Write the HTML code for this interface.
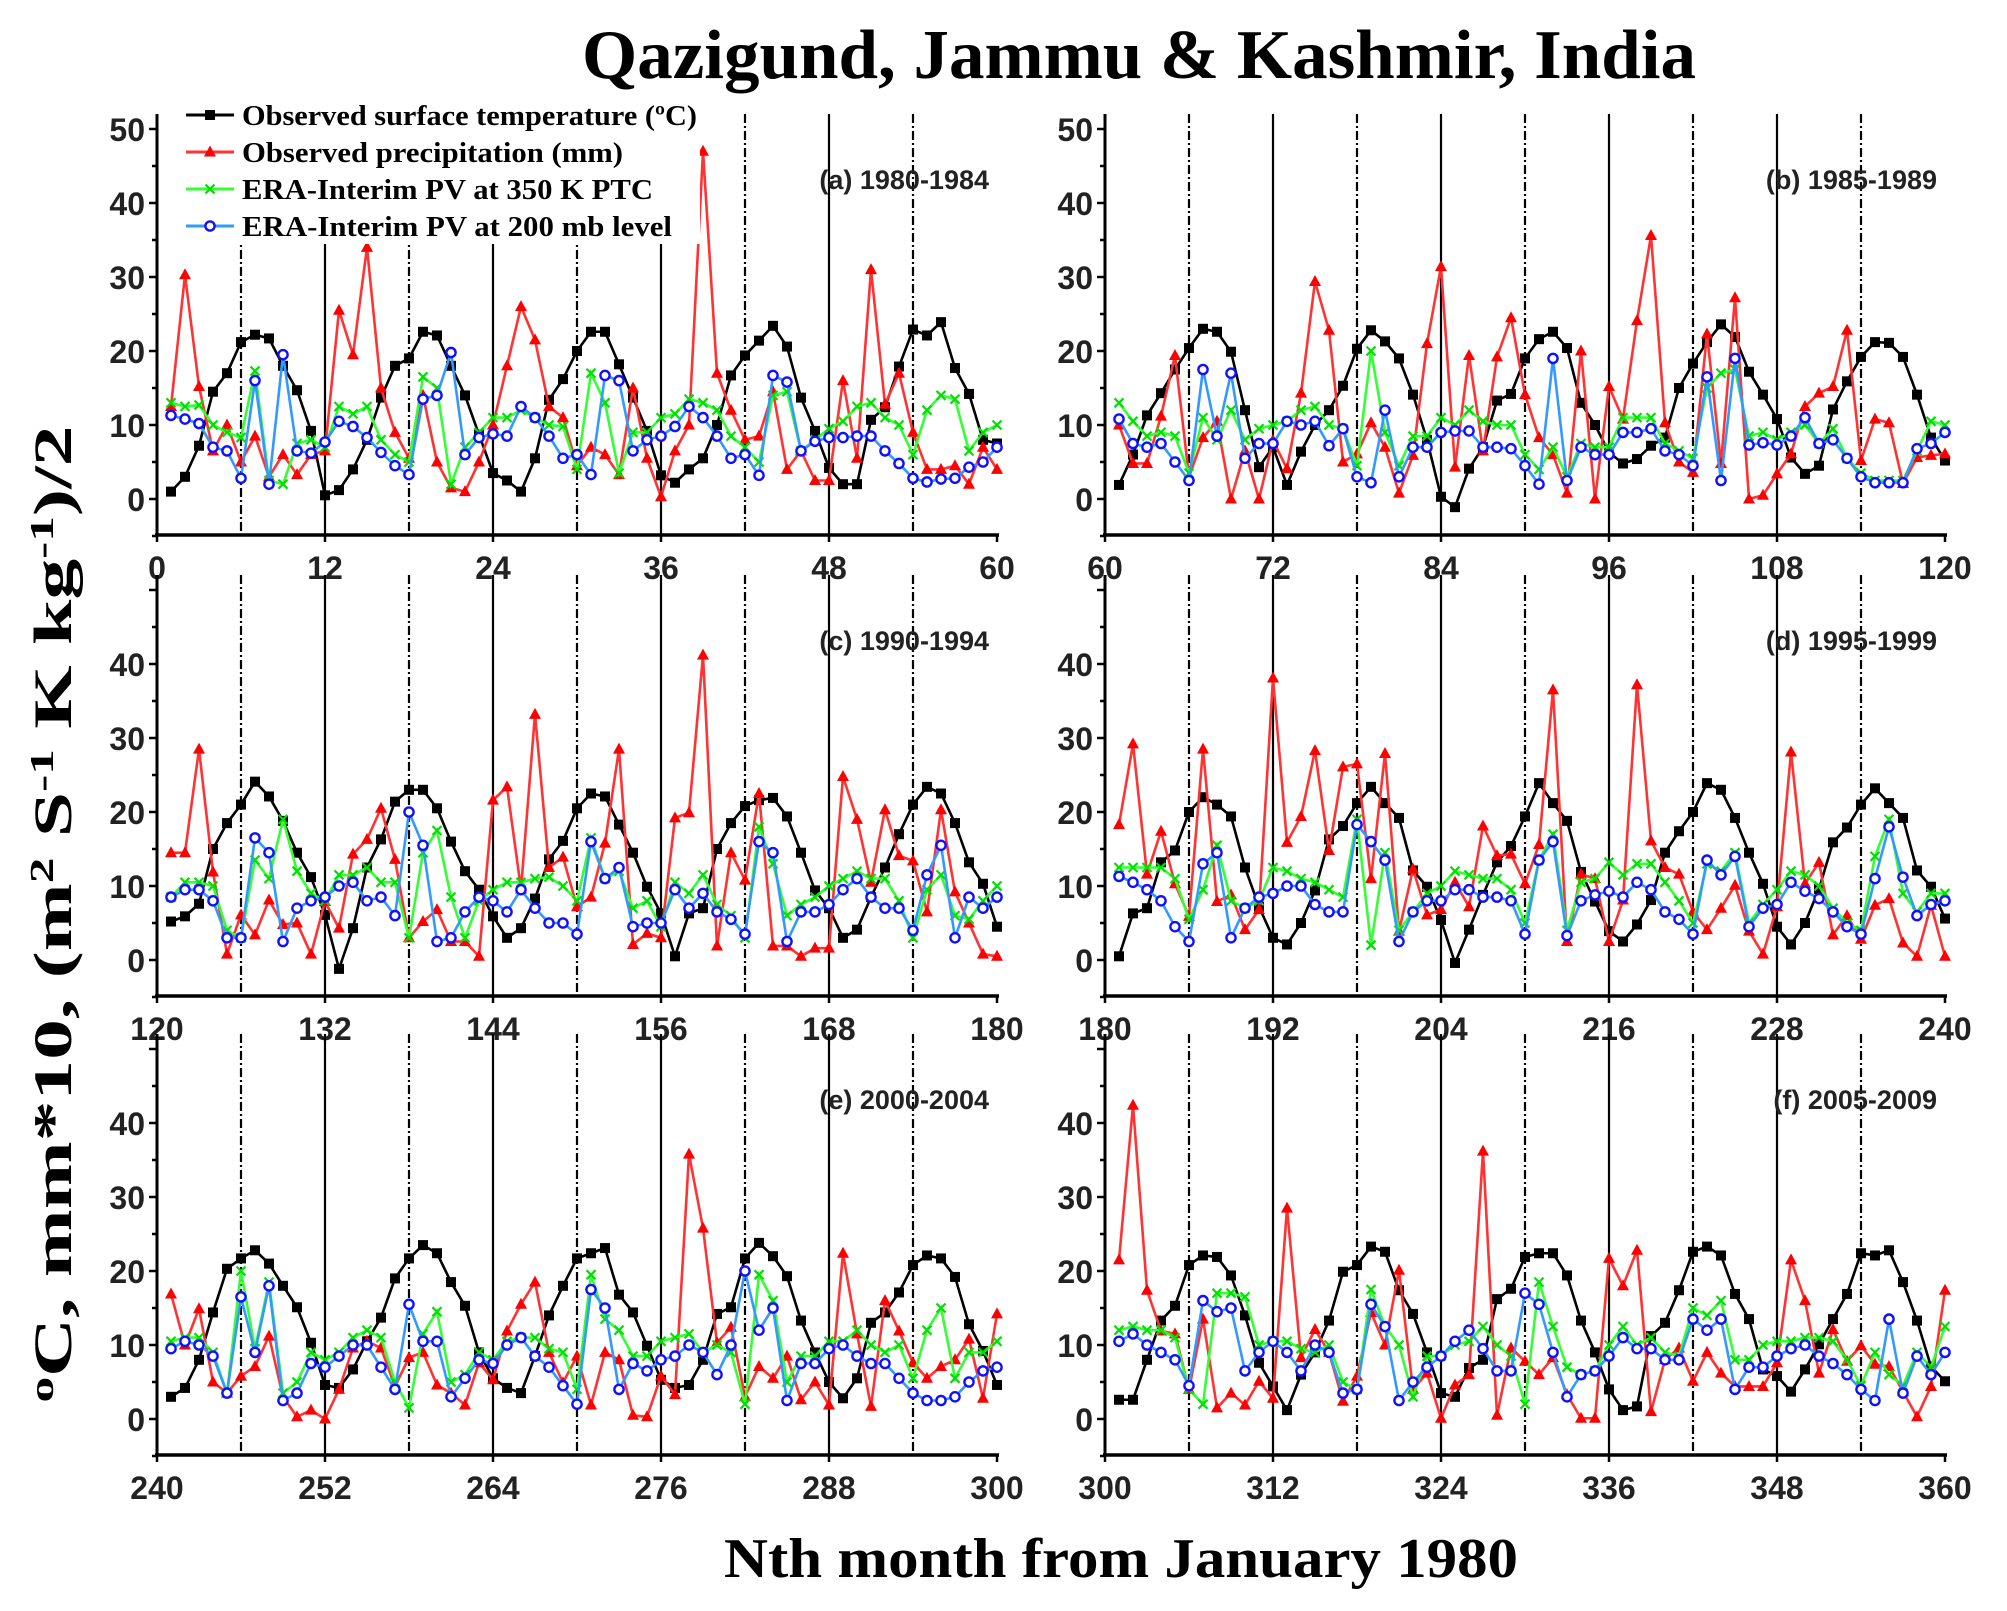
<!DOCTYPE html>
<html><head><meta charset="utf-8"><style>
html,body{margin:0;padding:0;background:#fff}
svg{display:block}
</style></head><body>
<svg id="chart" xmlns="http://www.w3.org/2000/svg" width="2007" height="1611" viewBox="0 0 2007 1611">
<rect x="0" y="0" width="2007" height="1611" fill="#fff"/>
<text x="1139" y="78" text-anchor="middle" font-family="Liberation Serif, serif" font-weight="bold" font-size="70" textLength="1114" lengthAdjust="spacingAndGlyphs">Qazigund, Jammu &amp; Kashmir, India</text>
<text x="1121" y="1577" text-anchor="middle" font-family="Liberation Serif, serif" font-weight="bold" font-size="56" textLength="794" lengthAdjust="spacingAndGlyphs">Nth month from January 1980</text>
<text x="71" y="914" transform="rotate(-90 71 914)" text-anchor="middle" font-family="Liberation Serif, serif" font-weight="bold" font-size="54" textLength="977" lengthAdjust="spacingAndGlyphs"><tspan baseline-shift="super" font-size="34">o</tspan>C, mm*10, (m<tspan baseline-shift="super" font-size="34">2</tspan> S<tspan baseline-shift="super" font-size="34">-1</tspan> K kg<tspan baseline-shift="super" font-size="34">-1</tspan>)/2</text>
<g id="panels"></g>
<g id="legend"></g>
</svg>
<script>
// Panel categories / labels
const panelLabels = ["(a) 1980-1984","(b) 1985-1989","(c) 1990-1994","(d) 1995-1999","(e) 2000-2004","(f) 2005-2009"];
const panelStartMonths = [0,60,120,180,240,300];
const yTickValues = [0,10,20,30,40,50];
const xTickSteps = [0,12,24,36,48,60];

const temp_a = [1,3,7.2,14.5,17,21.2,22.2,21.7,18,14.7,9.2,0.5, 1.2,4,8,13.7,18,19,22.6,22.1,18,14,8.7,3.5, 2.5,1,5.5,13.4,16.2,20,22.6,22.6,18.2,13.7,9.2,3.2, 2.2,4,5.5,10,16.7,19.4,21.4,23.4,20.6,13.7,9.2,4.2, 2,2,10.7,12.4,17.9,22.9,22.1,23.9,17.7,14.2,8,7.5];
const precip_a = [12.5,30.3,15.2,6.5,10,5,8.5,3,6,3.3,6,6.5, 25.5,19.5,34,15,9,5.5,14,5,1.5,1,5,10, 18,26,21.5,12.5,11,4.5,7,6,3.3,15,5.5,0.3, 6.5,10,47,17,12,8,8.5,14.5,4,6.5,2.5,2.5, 16,5.5,31,12.8,17,9,4,4,4.5,2,7,4];
const pv350_a = [13,12.5,12.7,10,9,8.3,17.3,2.5,2,7.5,8,7, 12.5,11.5,12.5,8,6,5,16.5,15,2,7,9,11, 11,12,11,10,9.8,4,17,13,3.5,9,9,11, 11.5,13.5,13,12,8.5,7,5,14,14.5,6.5,8,9.5, 10.5,12.5,13,11,10,6,12,14,13.5,6.5,9,10];
const pv200_a = [11.3,10.8,10.2,7,6.5,2.8,16,2,19.5,6.5,6.2,7.7, 10.5,9.8,8.3,6.3,4.5,3.3,13.5,14,19.8,6,8.3,8.8, 8.5,12.5,11,8.5,5.5,6,3.3,16.7,16,6.5,8,8.5, 9.8,12.5,11,8.5,5.5,6,3.2,16.7,15.8,6.5,7.8,8.3, 8.3,8.5,8.5,6.5,4.8,2.8,2.3,2.7,2.8,4.3,5,7];

const temp_b = [1.9,6,11.3,14.3,17.5,20.4,23,22.6,19.9,12,4.3,7, 1.9,6.4,10,12,15.3,20.3,22.8,21.3,19,14.1,8,0.3, -1.1,4.1,7,13.3,14.2,19,21.6,22.6,20.4,13,10,6.3, 4.8,5.4,7.2,8.3,15,18.3,21.2,23.6,21.9,17.2,14.1,10.8, 5.6,3.4,4.5,12.1,15.9,19.2,21.2,21.1,19.2,14.1,8.3,5.2];
const precip_b = [10,4.8,4.8,11.2,19.4,3,8.3,10.5,0,6.5,0,7.9, 4.1,14.3,29.4,22.8,5,6.1,10.3,7,0.8,5.9,21,31.4, 4.3,19.4,6.5,19.2,24.5,14.1,8.3,6,0.8,20,0,15.2, 10.8,24.1,35.6,10.3,5,3.6,22.3,4.8,27.2,0,0.5,3.4, 6.1,12.5,14.3,15.2,22.8,5.2,10.8,10.3,2.1,5.6,5.9,6.1];
const pv350_b = [13,10.5,8.5,9,8.5,3.5,11,8,12,8,9.5,10, 10.5,12,12.5,10,9.5,4.5,20,9,4.5,8.5,8.5,11, 10,12,10.5,10,10,6,4,7,3,7.5,7,7, 11,11,11,7.5,6.5,5.5,15,17,17.5,8.5,9,8, 9,10,7.5,9.5,5.5,3.5,2.5,2.5,2.5,6.5,10.5,10];
const pv200_b = [10.8,7.5,7,7.5,5,2.5,17.5,8.5,17,5.5,7.5,7.5, 10.5,10,10.5,7.2,9.5,3,2.2,12,3,7,7,9, 9.2,9.2,7,7,6.8,4.5,2,19,2.5,7,6,6, 9,9,9.5,6.5,6,4.5,16.5,2.5,19,7.3,7.6,7.3, 8.5,11,7.5,8,5.5,3,2.2,2.2,2.2,6.8,7.5,9];

const temp_c = [5.2,5.9,7.6,15,18.5,21,24.1,22.1,18.8,14.5,11.2,6.1, -1.2,4.3,12.5,16.3,21.4,23,23,20.5,16,12,9.5,5.9, 3,4.3,8.3,13.6,16.1,20.5,22.5,22.1,18.3,14.5,9.9,6.3, 0.5,6.3,7,15,18.5,20.8,21.6,21.9,19.4,14.5,9.4,7, 3,4.1,8.5,12.5,17,21,23.4,22.5,18.5,13.2,10.3,4.5];
const precip_c = [14.5,14.5,28.5,11.9,0.8,6.1,3.4,8.1,4.8,5,0.8,7.9, 4.3,14.3,16.3,20.5,13.6,3,5.2,6.8,2.5,2.5,0.5,21.6, 23.4,9.6,33.2,12.5,13.9,7.2,8.5,15.8,28.5,2.1,3.6,3, 19.2,19.9,41.2,1.9,14.5,10.8,22.5,1.9,1.9,0.5,1.6,1.6, 24.8,19,10.5,20.3,14.1,13.4,6.5,20.3,9.2,5,0.8,0.5];
const pv350_c = [8.5,10.5,10.5,10,4,3,13.5,11,19,12,9,8, 11.5,11.5,12.5,10.5,10.5,3,14.5,17.5,8.5,3,8,9.5, 10.5,10.5,11,11.2,10,8,16.5,11,12,7,8,4.5, 10.5,9,11.5,7.5,6,3,18,13,6,7.5, 8.5,10,11,12,11,11,8,3,9.5,11.5,6,5.5,8,10];
const pv200_c = [8.5,9.5,9.5,8,3,3,16.5,14.5,2.5,7,8,8.5, 10,10.5,8,8.5,6,20,15.5,2.5,3,6.5,8.5,8, 6.5,9.5,7,5,5,3.5,16,11,12.5,4.5,5,5, 9.5,7,9,6.5,5.5,3.5,16,14.5,2.5,6.5,6.5,7.5, 9.5,11,8.5,7,7,4,11.5,15.5,3,8.5,7,8.5];

const temp_d = [0.5,6.3,7,13.2,14.8,20,22,21,19.4,12.5,7.2,3, 2.1,5,9.4,16.3,18.1,21.2,23.4,21.2,19.2,12.1,9.9,5.4, -0.4,4.1,8.8,13.2,15.4,19.4,23.9,21.2,18.8,11.9,7.9,3.9, 2.5,4.8,8.1,14.5,17.4,20,23.9,23,19.2,14.5,10.3,4.5, 2.1,5,9.6,15.9,17.9,21,23.2,21.2,19.2,12.1,9.9,5.6];
const precip_d = [18.3,29.2,11.6,17.4,10.3,5.9,28.5,7.9,8.8,4.1,6.8,38.1, 15.9,19.4,28.3,14.8,26.1,26.5,11,27.9,3.9,12.3,6.1,6.8, 10.5,7.2,18.1,14.1,14.3,10.3,15.6,36.5,2.5,11.6,11,2.5, 8.1,37.2,16.1,12.5,11.6,6.5,4.1,7,10.1,3.9,0.8,7.2, 28.1,10.3,13.2,3.4,6,2.8,7.4,8.3,2.3,0.5,7.4,0.5];
const pv350_d = [12.5,12.5,12.5,12.5,11,5.5,9.5,15.5,8,7,8,12.5, 12,11,10.5,9.5,8.5,19,2,14.5,4,6.5,9,10, 12,11.5,11,11,9.5,5,13.5,17,4,10.5,11,13.2, 11.5,13,13,10.5,8,5,13,12,14.5,5,7.5,9.5, 12,11.5,10,7,5,4,14,19,9,6.5,9,9];
const pv200_d = [11.3,10.5,9.5,8,4.5,2.5,13,14.5,3,7,8.5,9, 10,10,7.5,6.5,6.5,18.3,16,13.5,2.5,6.5,8,8, 9.5,9.5,8.5,8.5,8,3.5,13.5,16,3.3,8,8.8,9.3, 8.5,10.5,9.5,6.5,5.5,3.5,13.5,11.5,14,4.5,7,7.5, 10.5,9.3,8.3,6.5,4.5,3.5,11,18,11.2,6,7.5,8];

const temp_e = [3,4.2,8,14.4,20.3,21.7,22.8,21,18,15.1,10.3,4.6, 4.2,6.7,10.5,13.7,19,21.7,23.5,22.4,18.5,15.3,9,5.5, 4.2,3.5,8.5,14,18,21.7,22.4,23.1,16.8,14.4,9.9,5.3, 4.2,4.6,8,14.2,15.1,21.7,23.8,22,19.3,13.3,9,5, 2.8,5.5,13,14.4,17.1,20.8,22.1,21.7,19.2,12.8,9.2,4.6];
const precip_e = [16.9,10,14.9,5,3.5,5.8,7.1,11.2,3,0.3,1.2,0, 4,9.6,10.5,9.6,4.4,8.3,9,4.6,3.5,1.9,7.6,5.3, 11.9,15.5,18.5,9,4.9,8.5,1.9,9,8,0.5,0.3,5.8, 3.3,35.8,25.8,10.3,12.4,3,7.1,5.5,8.5,2.6,5,1.9, 22.4,11.5,1.7,16,11.9,7.6,5.5,7.1,8,10.8,2.8,14.2];
const pv350_e = [10.5,11,11,9,3.5,20,9.5,18.5,3.5,5,9,8, 9,11,12,11,5,1.5,11.5,14.5,5,6,9,8, 10.5,11,11,9.5,9,4,19.5,13.5,12,8.5,8.5,10.5, 11,11.5,9,10,9,2,19.5,16,5,8.5,8.5,10.5, 10.5,12,10,9,10,5.5,12,15,5.5,9,9,10.5];
const pv200_e = [9.5,10.5,10,8.5,3.5,16.5,9,18,2.5,3.5,7.5,7, 8.5,10,10,7,4,15.5,10.5,10.5,3,5.5,8,7.5, 10,11,8.5,7,4.5,2,17.5,15,4,7.5,6.5,8, 8.5,10,9,6,10,20,12,15,2.5,7.5,7.5,9.5, 10,8.5,7.5,7.5,5.5,3.5,2.5,2.5,3,5,6.5,7];

const temp_f = [2.6,2.6,8,13.3,15.3,20.8,22.1,21.9,19.4,14,7.6,4.4, 1.2,6,9,13.3,19.9,20.8,23.3,22.6,17.4,14.2,9,3.5, 3,6.9,8,16.2,17.6,21.9,22.4,22.4,19.4,13.3,9,4, 1.2,1.7,11.2,13,17.4,22.6,23.3,22.1,16.9,13.5,6.7,5.8, 3.7,6.7,10.1,13.5,16.9,22.4,22.1,22.8,18.5,13.3,7.1,5.1];
const precip_f = [21.5,42.4,17.4,11.9,11.5,4,13.5,1.5,3.5,1.9,5.1,2.8, 28.5,8.3,12.1,9,2.4,5.8,14.4,10,20.1,4,6.2,0.1, 4.6,6,36.2,0.5,9.6,7.8,6,8.3,3.3,0.1,0.1,21.7, 18,22.8,1,8,9.6,5.1,9,6.2,4.4,4.4,4.4,7.6, 21.5,16,6.2,12.1,7.8,9.9,7.4,7.1,3.7,0.3,4.4,17.4];
const pv350_f = [12,12.5,12,12,11,4,2,17,17,16.5,10,10.5, 10.5,9.5,9,10,5,4,17.5,12.5,10,3,8.5,8.5, 10,10.5,12.5,10,8.5,2,18.5,12.5,7,6,6.5,10, 12.5,10,11,9,8.5,15,14,16,8,8,10,10.5, 10.5,11,11,10.5,8,4.5,9,6,4.5,9,7,12.5];
const pv200_f = [10.5,11.5,10,9,8,4.5,16,14.5,15,6.5,9,10.5, 9,6.5,10,9,3.5,4,15.5,12.5,2.5,5,7,8.5, 10.5,12,9.5,6.5,6.5,17,15.5,9,3,6,6.5,8.5, 11,9.5,9.5,8,8,13.5,12,13.5,4,7,7,8.5, 9.5,10,8.5,7.5,6,4,2.5,13.5,3.5,8.5,6,9];

const legendLabels = ["Observed surface temperature (\u00BAC)","Observed precipitation (mm)","ERA-Interim PV at 350 K PTC","ERA-Interim PV at 200 mb level"];

const NS = "http://www.w3.org/2000/svg";
const tempAll = [temp_a,temp_b,temp_c,temp_d,temp_e,temp_f];
const precipAll = [precip_a,precip_b,precip_c,precip_d,precip_e,precip_f];
const pv350All = [pv350_a,pv350_b,pv350_c,pv350_d,pv350_e,pv350_f];
const pv200All = [pv200_a,pv200_b,pv200_c,pv200_d,pv200_e,pv200_f];

const colX0 = [157, 1105];
const rowY0 = [499, 960, 1419];
const PXM = 14, PXU = 7.4;

function mk(tag, attrs, parent){
  const e = document.createElementNS(NS, tag);
  for (const k in attrs) e.setAttribute(k, attrs[k]);
  parent.appendChild(e);
  return e;
}

function drawMarker(g, type, x, y){
  let m;
  if (type === 0){
    m = mk('rect', {x:x-5, y:y-5, width:10, height:10, fill:'#000'}, g);
  } else if (type === 1){
    m = mk('polygon', {points:`${x},${y-6.5} ${x-6},${y+4.5} ${x+6},${y+4.5}`, fill:'#ff0000'}, g);
  } else if (type === 2){
    m = mk('path', {d:`M${x-4.5},${y-4.5}L${x+4.5},${y+4.5}M${x-4.5},${y+4.5}L${x+4.5},${y-4.5}`, stroke:'#00e000', 'stroke-width':2.2, fill:'none'}, g);
  } else {
    m = mk('circle', {cx:x, cy:y, r:4.6, fill:'#fff', stroke:'#1010ff', 'stroke-width':2.4}, g);
  }
  return m;
}

const panelsG = document.getElementById('panels');
const seriesStyle = [
  {line:'#000000', name:'temperature'},
  {line:'#ff3333', name:'precipitation'},
  {line:'#33ff33', name:'pv-350k'},
  {line:'#3399ff', name:'pv-200mb'}
];

for (let p = 0; p < 6; p++){
  const x0 = colX0[p % 2], y0 = rowY0[Math.floor(p / 2)];
  const xs = k => x0 + k * PXM;
  const ys = v => y0 - v * PXU;
  const bottom = y0 + 36, top = y0 - 385;
  const g = mk('g', {}, panelsG);
  
  

  for (let k = 6; k < 60; k += 6){
    const ln = mk('line', {x1:xs(k), x2:xs(k), y1:top, y2:bottom, stroke:'#000', 'stroke-width': 2.2}, g);
    if (k % 12 !== 0) ln.setAttribute('stroke-dasharray', '9 3 2 3');
    
    
  }

  const ya = mk('line', {x1:x0, x2:x0, y1:top, y2:bottom, stroke:'#000', 'stroke-width':3}, g);
  
  
  const xa = mk('line', {x1:x0-2, x2:xs(60)+2, y1:bottom, y2:bottom, stroke:'#000', 'stroke-width':3.5}, g);
  
  

  for (let v = -5; v <= 50; v += 5){
    mk('line', {x1:x0 - (v % 10 === 0 ? 8 : 5), x2:x0, y1:ys(v), y2:ys(v), stroke:'#000', 'stroke-width':2.5}, g);
  }
  yTickValues.forEach(v => {
    if (v === 50 && p >= 2) return;
    const t = mk('text', {x:x0 - 12, y:ys(v) + 12, 'text-anchor':'end', 'font-family':'Liberation Sans, sans-serif', 'font-weight':'bold', 'font-size':32, fill:'#222'}, g);
    t.textContent = v;
    
    
  });
  xTickSteps.forEach(k => {
    mk('line', {x1:xs(k), x2:xs(k), y1:bottom, y2:bottom + 7, stroke:'#000', 'stroke-width':2.5}, g);
    const t = mk('text', {x:xs(k), y:bottom + 44, 'text-anchor':'middle', 'font-family':'Liberation Sans, sans-serif', 'font-weight':'bold', 'font-size':32, fill:'#222'}, g);
    t.textContent = panelStartMonths[p] + k;
    
    
  });

  const lbl = mk('text', {x:xs(60) - 8, y:y0 - 310, 'text-anchor':'end', 'font-family':'Liberation Sans, sans-serif', 'font-weight':'bold', 'font-size':27, fill:'#222'}, g);
  lbl.textContent = panelLabels[p];
  
  

  const data = [tempAll[p], precipAll[p], pv350All[p], pv200All[p]];
  data.forEach((arr, s) => {
    const sg = mk('g', {}, g);
    
    
    const pts = arr.map((v, i) => xs(i + 1) + ',' + ys(v)).join(' ');
    const pl = mk('polyline', {points:pts, fill:'none', stroke:seriesStyle[s].line, 'stroke-width':2.6}, sg);
    
    
    arr.forEach((v, i) => {
      const m = drawMarker(sg, s, xs(i + 1), ys(v));
      
      
    });
  });
}

// legend
const lg = document.getElementById('legend');
mk('rect', {x:176, y:98, width:524, height:146, fill:'#fff'}, lg);
const legY = [115, 152, 189, 226];
const legW = [455, 381, 411, 430];
legendLabels.forEach((txt, i) => {
  const e = mk('g', {}, lg);
  
  
  mk('line', {x1:186, x2:234, y1:legY[i], y2:legY[i], stroke:seriesStyle[i].line, 'stroke-width':3}, e);
  drawMarker(e, i, 210, legY[i]);
  const t = mk('text', {x:242, y:legY[i] + 10, 'font-family':'Liberation Serif, serif', 'font-weight':'bold', 'font-size':29, textLength:legW[i], lengthAdjust:'spacingAndGlyphs'}, e);
  t.textContent = txt;
  
  
});
</script>
</body></html>
